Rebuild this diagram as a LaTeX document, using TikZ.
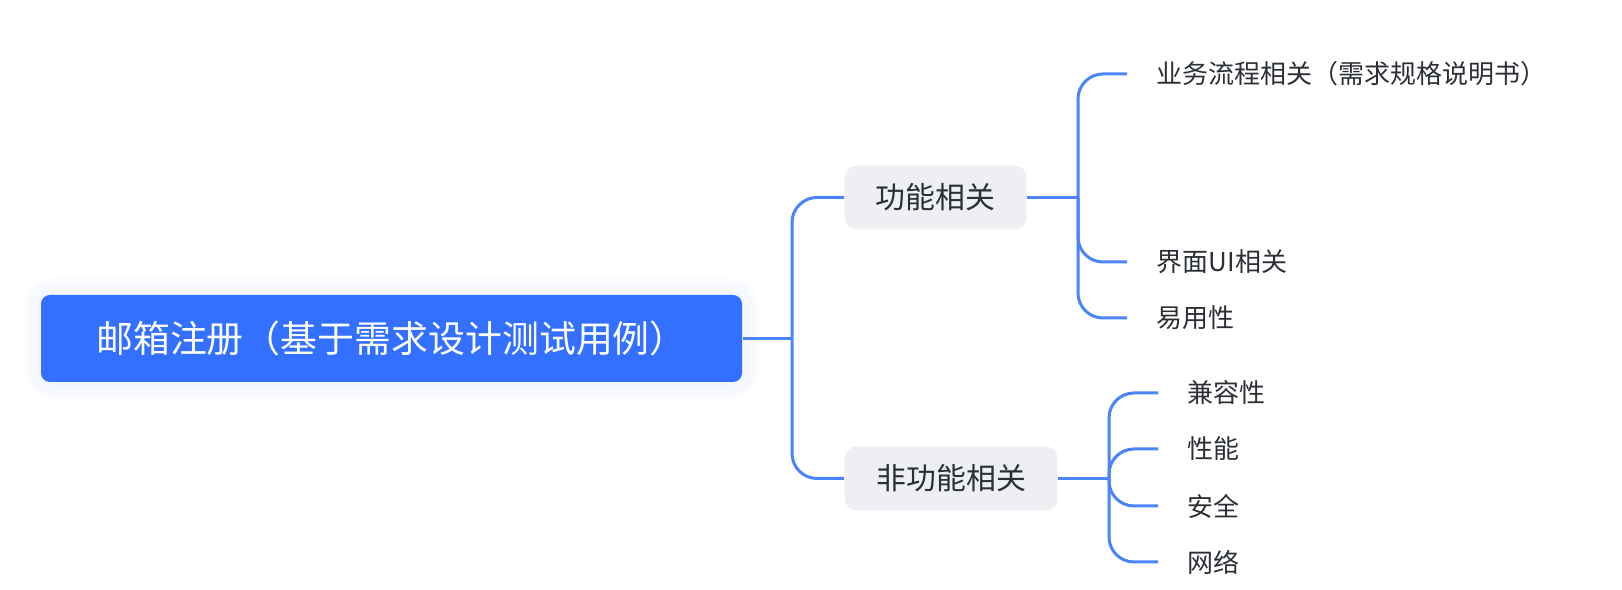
\documentclass[tikz,border=0pt]{standalone}
\usepackage{fontspec}
\setmainfont{Noto Sans CJK SC}
\usepackage{tikz}
\usepackage{xcolor}
\usetikzlibrary{
  positioning, backgrounds,
}
\definecolor{cRoot}   {HTML}{3370FF}
\definecolor{cLink}   {HTML}{4A84F8}
\definecolor{cBoxFill}{HTML}{EEEFF2}
\definecolor{cText}   {HTML}{2B2F36}
\tikzset{
  rootBox/.style={fill=cRoot, rounded corners=0.9mm, minimum width=70.1mm,
    minimum height=8.7mm, text=white, font=\fontsize{10.5}{12}\selectfont},
  midBox/.style={fill=cBoxFill, rounded corners=1.2mm, minimum height=6.4mm,
    inner xsep=0pt, text=cText, font=\fontsize{8.5}{10}\selectfont, anchor=west},
  leafText/.style={inner xsep=2.9mm, inner ysep=0.5mm, text=cText,
    font=\fontsize{7.4}{9}\selectfont, anchor=west},
  linkLine/.style={draw=cLink, line width=0.3mm, rounded corners=2.5mm},
}

\begin{document}
\begin{tikzpicture}
        \useasboundingbox (0,0) rectangle (162.2mm, 59mm);
        \node[rootBox] (root) at (39.15mm, 25.15mm) {邮箱注册（基于需求设计测试用例）};
        % soft glow under the root box
        \begin{scope}[on background layer]
          \foreach \w/\c in {3.2mm/3, 2.4mm/4, 1.6mm/5, 0.8mm/6}
            \draw[cRoot!\c, line width=\w, rounded corners=1.5mm, yshift=-0.3mm]
              (root.south west) rectangle (root.north east);
        \end{scope}
        % second level
        \node[midBox, minimum width=18.2mm] (func) at (84.4mm, 39.25mm) {功能相关};
        \node[midBox, minimum width=21.3mm] (nonfunc) at (84.4mm, 11.15mm) {非功能相关};
        \coordinate (rootFork) at (79.2mm, 25.15mm);
        \draw[linkLine] (root.east) -- (rootFork);
        \draw[linkLine] (rootFork) |- (func.west);
        \draw[linkLine] (rootFork) |- (nonfunc.west);
        % functional leaves
        \node[leafText] (flow) at (112.7mm, 51.6mm) {业务流程相关（需求规格说明书）};
        \node[leafText] (ui)   at (112.7mm, 32.8mm) {界面UI相关};
        \node[leafText] (ease) at (112.7mm, 27.2mm) {易用性};
        \coordinate (funcFork) at (107.8mm, 39.25mm);
        \draw[linkLine] (func.east) -- (funcFork);
        \foreach \n in {flow, ui, ease}
          \draw[linkLine] (funcFork) |- (\n.west);
        % non-functional leaves
        \node[leafText] (compat) at (115.8mm, 19.7mm) {兼容性};
        \node[leafText] (perf)   at (115.8mm, 14.1mm) {性能};
        \node[leafText] (safe)   at (115.8mm, 8.4mm)  {安全};
        \node[leafText] (net)    at (115.8mm, 2.8mm)  {网络};
        \coordinate (nonfuncFork) at (110.9mm, 11.15mm);
        \draw[linkLine] (nonfunc.east) -- (nonfuncFork);
        \foreach \n in {compat, perf, safe, net}
          \draw[linkLine] (nonfuncFork) |- (\n.west);
      \end{tikzpicture}
\end{document}
